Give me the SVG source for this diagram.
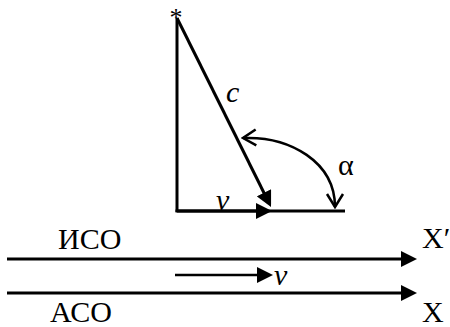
<svg xmlns="http://www.w3.org/2000/svg" width="450" height="327" viewBox="0 0 450 327">
  <style>
    .ln { stroke: #000; stroke-width: 3; fill: none; }
    .thin { stroke: #000; stroke-width: 2.5; fill: none; }
    .t { font-family: "Liberation Serif", "Times New Roman", serif; font-size: 30px; fill: #000; }
    .i { font-style: italic; }
  </style>
  <defs>
    <marker id="tri" viewBox="0 0 16 16" refX="2" refY="8" markerWidth="16" markerHeight="16" markerUnits="userSpaceOnUse" orient="auto">
      <path d="M0,0 L16,8 L0,16 Z" fill="#000"/>
    </marker>
    <marker id="open" viewBox="-15 -10 17 20" refX="0" refY="0" markerWidth="17" markerHeight="20" markerUnits="userSpaceOnUse" orient="auto-start-reverse">
      <path d="M-13,-8 L0,0 L-13,8" fill="none" stroke="#000" stroke-width="2.5"/>
    </marker>
  </defs>

  <g id="connectors">
    <line id="vertical" class="ln" x1="177" y1="18" x2="177" y2="212"/>
    <line id="baseline" class="ln" x1="175.5" y1="211" x2="345" y2="211"/>
    <line id="v-arrow-top" class="ln" x1="177" y1="211" x2="258" y2="211" marker-end="url(#tri)"/>
    <line id="c-ray" class="ln" x1="177" y1="18" x2="264.8" y2="194.5" marker-end="url(#tri)"/>
    <path id="alpha-arc" class="thin" d="M243,138 C290,136 335,162 335,207" marker-start="url(#open)" marker-end="url(#open)"/>
    <line id="axis-iso" class="ln" x1="7" y1="259" x2="403" y2="259" marker-end="url(#tri)"/>
    <line id="axis-aso" class="ln" x1="7" y1="293" x2="403" y2="293" marker-end="url(#tri)"/>
    <line id="v-arrow-bottom" class="thin" x1="175" y1="275" x2="259" y2="275" marker-end="url(#tri)"/>
  </g>

  <g id="star"><text class="t" x="176" y="26" font-size="26" style="font-size:26px" text-anchor="middle">*</text></g>
  <g id="label-c"><text class="t i" x="226" y="102">c</text></g>
  <g id="label-alpha"><text class="t" x="338" y="175">α</text></g>
  <g id="label-v-top"><text class="t i" x="216" y="210">v</text></g>
  <g id="label-iso"><text class="t" x="58" y="249">ИСО</text></g>
  <g id="label-xprime"><text class="t" x="422" y="248">X′</text></g>
  <g id="label-v-bottom"><text class="t i" x="274" y="285">v</text></g>
  <g id="label-aso"><text class="t" x="50" y="322">АСО</text></g>
  <g id="label-x"><text class="t" x="422" y="322">X</text></g>
</svg>
